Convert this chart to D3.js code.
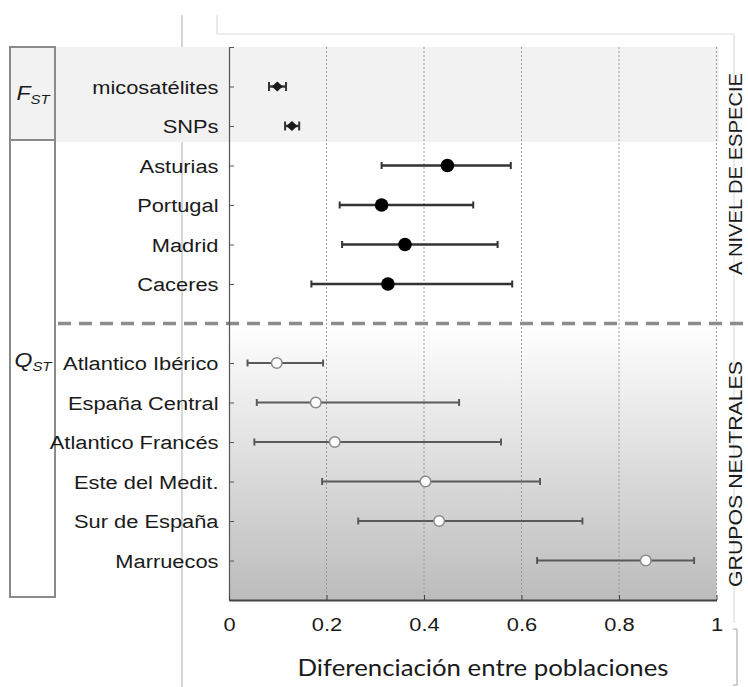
<!DOCTYPE html>
<html><head><meta charset="utf-8">
<script src="https://cdn.jsdelivr.net/npm/d3@7"></script>
<style>html,body{margin:0;padding:0;background:#fff;}svg{display:block;}</style>
</head><body>
<script>
// ---- data ----
const categories = ["micosatélites","SNPs","Asturias","Portugal","Madrid","Caceres",
  "Atlantico Ibérico","España Central","Atlantico Francés","Este del Medit.","Sur de España","Marruecos"];
const means = [0.099,0.129,0.448,0.313,0.361,0.326,0.098,0.178,0.217,0.403,0.431,0.855];
const lower = [0.082,0.115,0.313,0.227,0.232,0.169,0.038,0.057,0.052,0.191,0.265,0.632];
const upper = [0.117,0.144,0.578,0.501,0.551,0.581,0.193,0.472,0.558,0.638,0.725,0.954];
const markerType = ["diamond","diamond","filled","filled","filled","filled","open","open","open","open","open","open"];
const xTicks = [0,0.2,0.4,0.6,0.8,1];
const xTickLabels = ["0","0.2","0.4","0.6","0.8","1"];
const xTitle = "Diferenciación entre poblaciones";
const sideLabels = ["A NIVEL DE ESPECIE","GRUPOS NEUTRALES"];

const W = 748, H = 687;
const SX = 1.15; // horizontal stretch of text in the reference
const svg = d3.select("body").append("svg").attr("width",W).attr("height",H);
const defs = svg.append("defs");
const grad = defs.append("linearGradient").attr("id","g1").attr("x1",0).attr("y1",0).attr("x2",0).attr("y2",1);
grad.append("stop").attr("offset","0").attr("stop-color","#ffffff");
grad.append("stop").attr("offset","1").attr("stop-color","#bcbcbc");

const x = d3.scaleLinear().domain([0,1]).range([229,716.5]);
const slot = i => (i < 6 ? i : i + 1);
const y = d3.scaleLinear().domain([-1,13]).range([47,600]);
const sepY = y(6);

// faint screenshot frame lines
svg.append("line").attr("x1",182).attr("x2",182).attr("y1",15).attr("y2",687)
  .attr("stroke","#c8c8c8").attr("stroke-width",1.5);
svg.append("path").attr("d","M217,15V34H734V623").attr("fill","none")
  .attr("stroke","#dcdcdc").attr("stroke-width",1.2);
svg.append("path").attr("d","M733,629H737V685H733").attr("fill","none")
  .attr("stroke","#a0a0a0").attr("stroke-width",1);

// backgrounds
svg.append("rect").attr("x",55).attr("y",47).attr("width",719-55).attr("height",142-47).attr("fill","#f2f2f2");
svg.append("rect").attr("x",x(0)).attr("y",sepY).attr("width",x(1)-x(0)).attr("height",y(13)-sepY).attr("fill","url(#g1)");

// left boxes
svg.append("rect").attr("x",10).attr("y",47).attr("width",45).attr("height",93)
  .attr("fill","#f2f2f2").attr("stroke","#8a8a8a").attr("stroke-width",2);
svg.append("rect").attr("x",10).attr("y",140).attr("width",45).attr("height",457)
  .attr("fill","#fff").attr("stroke","#8a8a8a").attr("stroke-width",2);

function subLabel(cx, by, main){
  const t = svg.append("text").attr("transform",`translate(${cx},${by}) scale(${SX},1)`)
    .attr("text-anchor","middle").attr("font-family","Liberation Sans, Arial, sans-serif")
    .attr("font-style","italic").attr("fill","#1a1a1a");
  t.append("tspan").attr("font-size",20).text(main);
  t.append("tspan").attr("font-size",13).attr("dy",4).text("ST");
}
subLabel(33,100,"F");
subLabel(33,367,"Q");

// gridlines
svg.append("g").selectAll("line").data(xTicks.slice(1)).join("line")
  .attr("x1",d=>x(d)).attr("x2",d=>x(d)).attr("y1",y(-1)).attr("y2",y(13))
  .attr("stroke","#9a9a9a").attr("stroke-width",1).attr("stroke-dasharray","2,2");

// separator
svg.append("line").attr("x1",58).attr("x2",W).attr("y1",sepY).attr("y2",sepY)
  .attr("stroke","#8c8c8c").attr("stroke-width",3.5).attr("stroke-dasharray","13,8");

// left axis
const yAxis = d3.axisLeft(y).tickValues(categories.map((c,i)=>slot(i)))
  .tickFormat(s => categories[s < 6 ? s : s - 1])
  .tickSizeInner(-5).tickSizeOuter(-5).tickPadding(11);
const ga = svg.append("g").attr("transform",`translate(${x(0)},0)`).call(yAxis);
ga.select(".domain").attr("stroke","#555").attr("stroke-width",1.2);
ga.selectAll(".tick line").attr("stroke","#555");
ga.selectAll("text").attr("font-family","Liberation Sans, Arial, sans-serif").attr("font-size",19)
  .attr("fill","#1a1a1a").attr("x",-10.5/SX).attr("dy","0.35em").attr("transform",`scale(${SX},1)`);

// bottom axis
const xAxis = d3.axisBottom(x).tickValues(xTicks).tickFormat((d,i)=>xTickLabels[i])
  .tickSizeInner(-5).tickSizeOuter(0).tickPadding(18);
const gb = svg.append("g").attr("transform",`translate(0,${y(13)})`).call(xAxis);
gb.select(".domain").attr("stroke","#444").attr("stroke-width",2);
gb.selectAll(".tick line").attr("stroke","#444");
gb.selectAll("text").attr("font-family","Liberation Sans, Arial, sans-serif").attr("font-size",19)
  .attr("fill","#1a1a1a").attr("transform",`scale(${SX},1)`);

// error bars
const eb = svg.append("g");
categories.forEach((c,i)=>{
  const yy = y(slot(i));
  const col = markerType[i]==="open" ? "#5a5a5a" : "#333";
  const sw = markerType[i]==="open" ? 1.8 : 2.4;
  const cap = markerType[i]==="diamond" ? 4.5 : 3.5;
  eb.append("line").attr("x1",x(lower[i])).attr("x2",x(upper[i])).attr("y1",yy).attr("y2",yy)
    .attr("stroke",col).attr("stroke-width",sw);
  [lower[i],upper[i]].forEach(v=>{
    eb.append("line").attr("x1",x(v)).attr("x2",x(v)).attr("y1",yy-cap).attr("y2",yy+cap)
      .attr("stroke",col).attr("stroke-width",2);
  });
});

// markers
const mk = svg.append("g");
categories.forEach((c,i)=>{
  const cx = x(means[i]), cy = y(slot(i));
  if(markerType[i]==="diamond"){
    mk.append("path").attr("d",`M${cx-5.5},${cy}L${cx},${cy-5}L${cx+5.5},${cy}L${cx},${cy+5}Z`)
      .attr("fill","#1a1a1a");
  } else if(markerType[i]==="filled"){
    mk.append("circle").attr("cx",cx).attr("cy",cy).attr("r",6.8).attr("fill","#000");
  } else {
    mk.append("circle").attr("cx",cx).attr("cy",cy).attr("r",5.3).attr("fill","#fff")
      .attr("stroke","#8a8a8a").attr("stroke-width",1.5);
  }
});

// x title
svg.append("text").attr("x",483).attr("y",676).attr("text-anchor","middle")
  .attr("font-family","Lato, Open Sans, sans-serif").attr("font-size",24).attr("fill","#1a1a1a")
  .attr("textLength",371).attr("lengthAdjust","spacingAndGlyphs").text(xTitle);

// side labels (rotated, kept just inside the right edge)
[[174,sideLabels[0],202],[474,sideLabels[1],226]].forEach(([cy,t,len])=>{
  svg.append("text").attr("transform",`translate(742,${cy}) rotate(-90)`)
    .attr("text-anchor","middle").attr("font-family","Liberation Sans, Arial, sans-serif")
    .attr("font-size",18).attr("fill","#1a1a1a")
    .attr("textLength",len).attr("lengthAdjust","spacingAndGlyphs").text(t);
});
</script>
</body></html>
